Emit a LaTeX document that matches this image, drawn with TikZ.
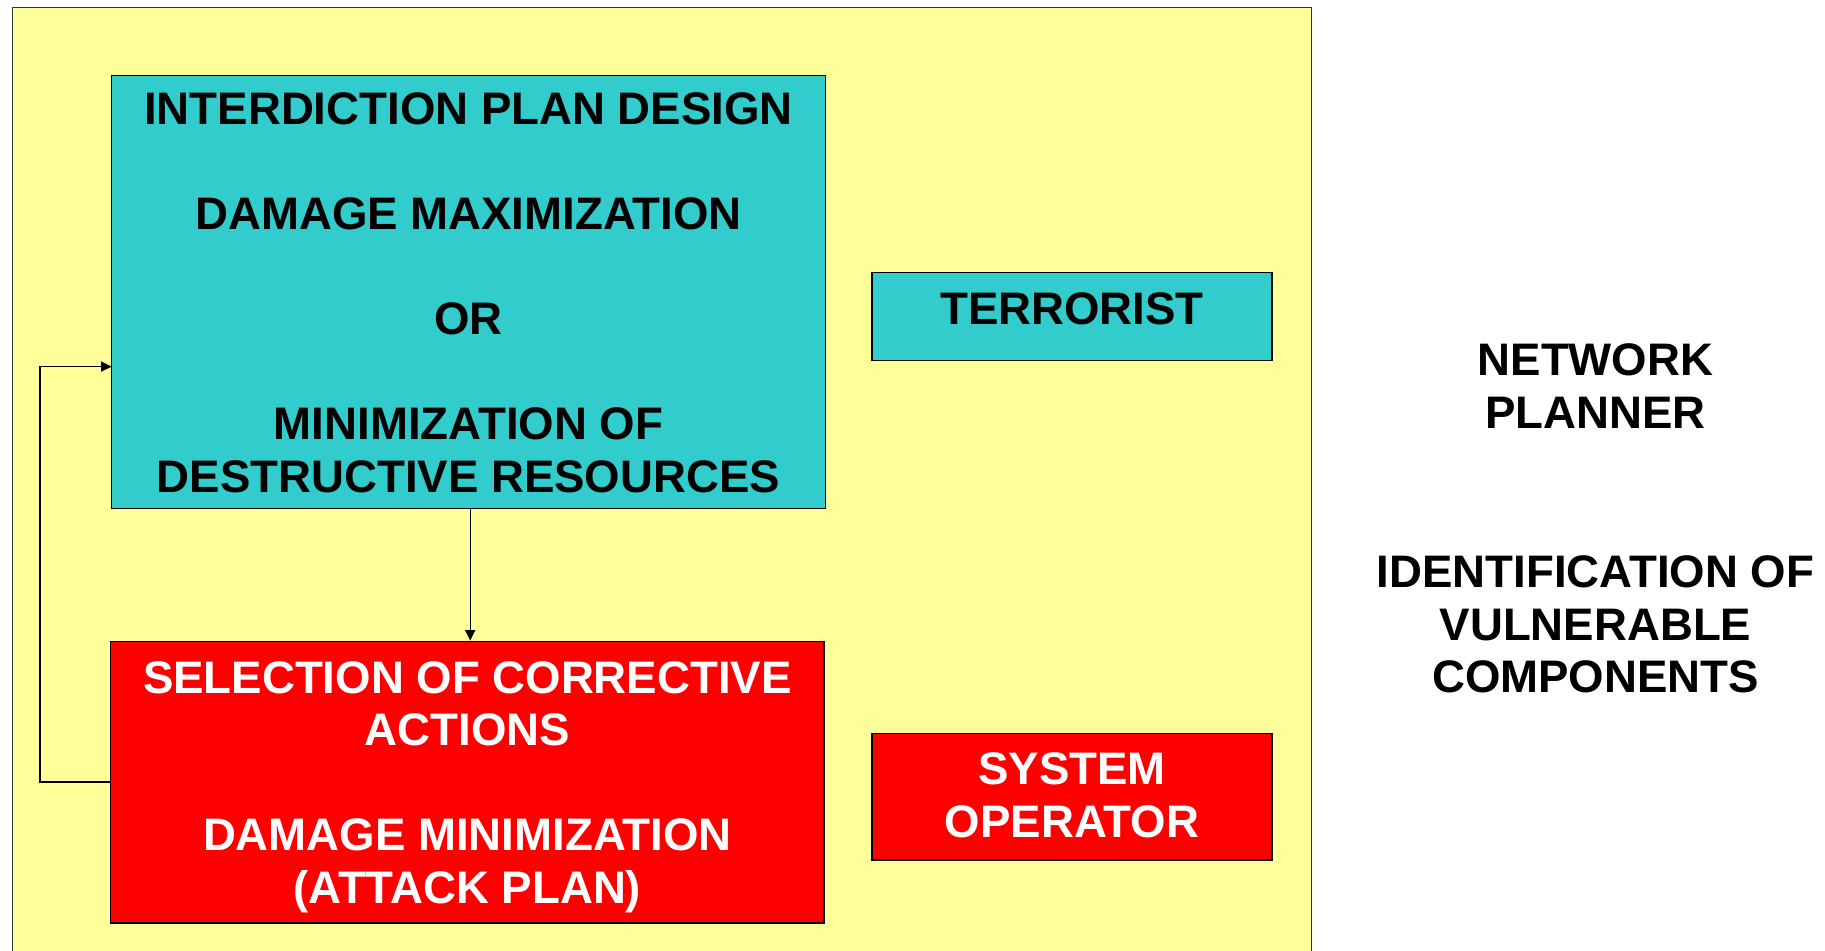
\documentclass[tikz,border=0pt]{standalone}
\usepackage{fontspec}
\setmainfont{Liberation Sans}
\usetikzlibrary{arrows.meta,fit}
\definecolor{panelyellow}{HTML}{FFFF99}
\definecolor{teal}{HTML}{33CCCC}
\definecolor{alertred}{HTML}{FF0000}
\begin{document}
\begin{tikzpicture}[x=0.5pt,y=-0.5pt,
  box/.style={draw=black,line width=0.65pt,inner sep=0pt},
  label/.style={font=\bfseries\fontsize{22.8}{26.25}\selectfont,align=center,anchor=base,inner sep=0pt},
  link/.style={line width=0.7pt,-{Triangle[length=5.3pt,width=5pt]}}]
\useasboundingbox (0,0) rectangle (1825,951);
% background panel
\fill[white] (0,0) rectangle (1825,951);
\node[box,fill=panelyellow,draw=black!80,line width=0.5pt,fit={(12.5,7.5) (1311,965)}] (panel) {};
% boxes
\node[box,fill=teal,fit={(111.7,75.7) (825.2,508.6)}] (design) {};
\node[box,fill=alertred,fit={(110.6,641.3) (824,923)}] (select) {};
\node[box,fill=teal,fit={(872,272.4) (1272,360.8)}] (terror) {};
\node[box,fill=alertred,fit={(872,733.3) (1272,860.1)}] (sysop) {};
% texts (anchored at the baseline of their last line)
\node[label] (designtxt) at (468.5,492.5) {INTERDICTION PLAN DESIGN\\[26.25pt]DAMAGE MAXIMIZATION\\[26.25pt]OR\\[26.25pt]MINIMIZATION OF\\DESTRUCTIVE RESOURCES};
\node[label,text=white] (selecttxt) at (467.3,903) {SELECTION OF CORRECTIVE\\ACTIONS\\[26.25pt]DAMAGE MINIMIZATION\\(ATTACK PLAN)};
\node[label] (terrortxt) at (1072,325) {TERRORIST};
\node[label,text=white] (sysoptxt) at (1072,837) {SYSTEM\\OPERATOR};
\node[label] (planner) at (1595.5,428.5) {NETWORK\\PLANNER};
\node[label] (ident) at (1595.5,692.5) {IDENTIFICATION OF\\VULNERABLE\\COMPONENTS};
% connectors
\coordinate (down) at (470.2,508.6);
\coordinate (fbin) at (111.7,366.6);
\draw[link] (down) -- (down |- select.north);
\draw[link] (select.west) -- ++(-70,0) |- (fbin);
\end{tikzpicture}
\end{document}
